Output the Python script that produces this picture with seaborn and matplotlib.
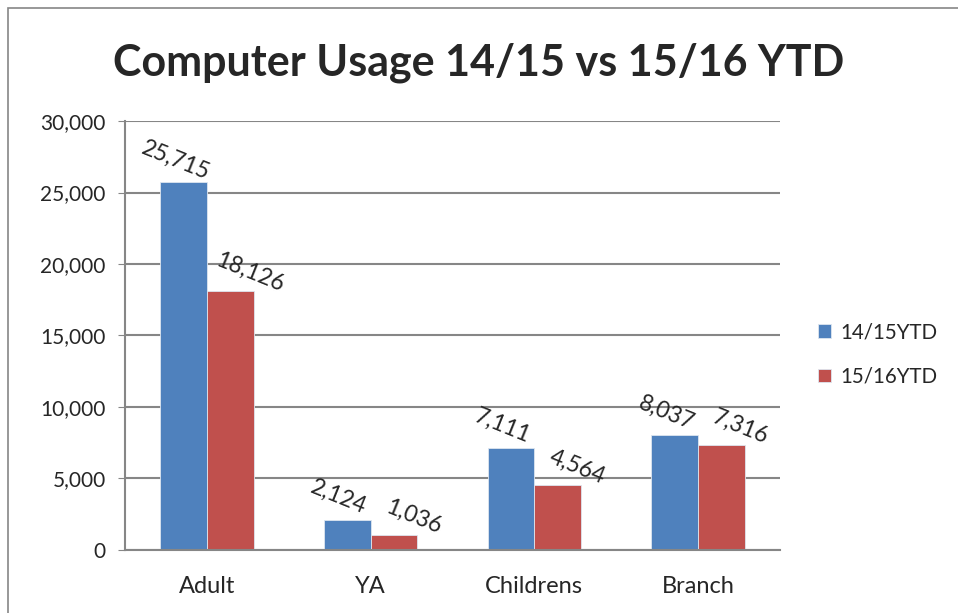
import matplotlib
matplotlib.use("Agg")
import matplotlib.pyplot as plt
import pandas as pd
import seaborn as sns
from matplotlib.patches import Rectangle

categories = ["Adult", "YA", "Childrens", "Branch"]
series = ["14/15YTD", "15/16YTD"]
values_1415 = [25715, 2124, 7111, 8037]
values_1516 = [18126, 1036, 4564, 7316]
palette = ["#4F81BD", "#C0504D"]

df = pd.DataFrame({
    "category": categories * 2,
    "series": [series[0]] * 4 + [series[1]] * 4,
    "value": values_1415 + values_1516,
})

sns.set_style("white")
plt.rcParams["font.family"] = ["Lato", "DejaVu Sans"]

fig = plt.figure(figsize=(9.58, 6.13), dpi=100)
ax = fig.add_axes([0.1305, 0.1028, 0.6835, 0.6998])

sns.barplot(data=df, x="category", y="value", hue="series", order=categories,
            hue_order=series, palette=palette, width=0.57, saturation=1,
            edgecolor="#dde6f0", linewidth=0.6, ax=ax)

# label offsets (points) per series, roughly where Excel put them
label_offsets = [(-6, 16), (14, 13)]
for cont, (dx, dy) in zip(ax.containers, label_offsets):
    for bar in cont:
        h = bar.get_height()
        ax.annotate(f"{int(h):,}", (bar.get_x() + bar.get_width() / 2, h),
                    xytext=(dx, dy), textcoords="offset points",
                    ha="center", va="center", rotation=-22,
                    rotation_mode="anchor", fontsize=16.5)

ax.set_ylim(0, 30000)
ax.set_yticks(range(0, 30001, 5000))
ax.set_yticklabels([f"{v:,}" for v in range(0, 30001, 5000)], fontsize=15)
ax.tick_params(axis="x", labelsize=17, pad=19, length=0)
ax.tick_params(axis="y", length=5, color="#868686", direction="out", left=True, pad=9)
ax.yaxis.grid(True, color="#868686", linewidth=1.5)
ax.set_axisbelow(True)
for s in ["top", "right"]:
    ax.spines[s].set_visible(False)
for s in ["left", "bottom"]:
    ax.spines[s].set_color("#868686")
    ax.spines[s].set_linewidth(1.5)
ax.set_xlabel("")
ax.set_ylabel("")

leg = ax.legend(loc="center left", bbox_to_anchor=(1.03, 0.456), frameon=False,
                fontsize=14.8, handlelength=0.65, handleheight=0.65,
                labelspacing=1.2, handletextpad=0.45)

fig.text(0.5, 0.897, "Computer Usage 14/15 vs 15/16 YTD", ha="center",
         va="center", fontsize=31, fontweight="bold")

fig.patches.append(Rectangle((8 / 958, -0.01), 1.0, 1 - 8 / 613 + 0.01,
                             transform=fig.transFigure, fill=False,
                             edgecolor="#868686", linewidth=1.2))

fig.savefig("out.png", dpi=100)
